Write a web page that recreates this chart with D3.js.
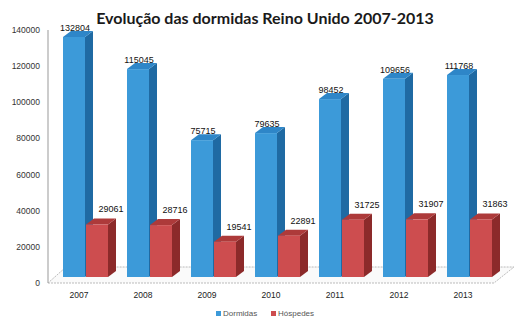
<!DOCTYPE html>
<html><head><meta charset="utf-8">
<script src="https://cdn.jsdelivr.net/npm/d3@7"></script>
<style>body{margin:0;background:#fff}svg{display:block}</style>
</head><body>
<script>
const years = ["2007","2008","2009","2010","2011","2012","2013"];
const dormidas = [132804,115045,75715,79635,98452,109656,111768];
const hospedes = [29061,28716,19541,22891,31725,31907,31863];
const yTicks = [0,20000,40000,60000,80000,100000,120000,140000];
const seriesNames = ["Dormidas","Hóspedes"];

const W=519,H=320;
const svg=d3.select("body").append("svg").attr("width",W).attr("height",H);
const y=d3.scaleLinear().domain([0,140000]).range([283,30]);
const x=d3.scaleBand().domain(years).range([40,488]).paddingInner(0);
const dx=8, dy=6, bw=22;

// title
svg.append("text").attr("x",265).attr("y",24).attr("text-anchor","middle")
  .attr("font-family","Lato, 'Open Sans', sans-serif").attr("font-weight","bold")
  .attr("font-size",16).attr("fill","#1a1a1a").text("Evolução das dormidas Reino Unido 2007-2013");

// y axis
svg.append("line").attr("x1",48).attr("x2",48).attr("y1",y(140000)).attr("y2",y(0)).attr("stroke","#999");
svg.selectAll(".yt").data(yTicks).enter().append("text")
  .attr("x",40).attr("y",d=>y(d)+3).attr("text-anchor","end")
  .attr("font-family","'Liberation Sans', sans-serif").attr("font-size",8.5).attr("fill","#333").text(d=>d);

// floor
const floorPts=[[48,y(0)],[494,y(0)],[514,y(0)-16],[66,y(0)-16]];
svg.append("polygon").attr("points",floorPts.map(p=>p.join(",")).join(" "))
  .attr("fill","#fafafa").attr("stroke","#aaa").attr("stroke-width",0.8).attr("stroke-dasharray","2,1");

function bar(g,x0,v,cFront,cSide,cTop){
  const base=y(0)-dy, top=y(v)-dy;
  g.append("polygon").attr("points",`${x0+bw},${top} ${x0+bw+dx},${top-dy} ${x0+bw+dx},${base-dy} ${x0+bw},${base}`).attr("fill",cSide);
  g.append("polygon").attr("points",`${x0},${top} ${x0+dx},${top-dy} ${x0+bw+dx},${top-dy} ${x0+bw},${top}`).attr("fill",cTop);
  g.append("rect").attr("x",x0).attr("y",top).attr("width",bw).attr("height",base-top).attr("fill",cFront);
}
const g=svg.append("g");
years.forEach((yr,i)=>{
  bar(g,x(yr)+23,dormidas[i],"#3c9ad9","#1f6aa3","#2e86c8");
  bar(g,x(yr)+46,hospedes[i],"#cd4d4f","#8c2a2a","#ad3a3a");
});
// value labels
svg.selectAll(".vd").data(dormidas).enter().append("text")
  .attr("x",(d,i)=>x(years[i])+23+bw/2+1).attr("y",d=>y(d)-dy-6).attr("text-anchor","middle")
  .attr("font-family","'Liberation Sans Narrow','Liberation Sans', sans-serif").attr("font-size",9).attr("fill","#111").text(d=>d);
svg.selectAll(".vh").data(hospedes).enter().append("text")
  .attr("x",(d,i)=>x(years[i])+46+bw/2+14).attr("y",d=>y(d)-dy-12).attr("text-anchor","middle")
  .attr("font-family","'Liberation Sans Narrow','Liberation Sans', sans-serif").attr("font-size",9).attr("fill","#111").text(d=>d);
// category labels
svg.selectAll(".xl").data(years).enter().append("text")
  .attr("x",d=>x(d)+39).attr("y",298).attr("text-anchor","middle")
  .attr("font-family","'Liberation Sans', sans-serif").attr("font-size",8.5).attr("fill","#222").text(d=>d);
// legend
const lg=[{n:seriesNames[0],c:"#3c9ad9",x:216},{n:seriesNames[1],c:"#cd4d4f",x:271}];
lg.forEach(l=>{
  svg.append("rect").attr("x",l.x).attr("y",311).attr("width",5).attr("height",5).attr("fill",l.c);
  svg.append("text").attr("x",l.x+7).attr("y",316).attr("font-family","'Liberation Sans', sans-serif")
    .attr("font-size",8).attr("fill","#555").text(l.n);
});
</script>
</body></html>
